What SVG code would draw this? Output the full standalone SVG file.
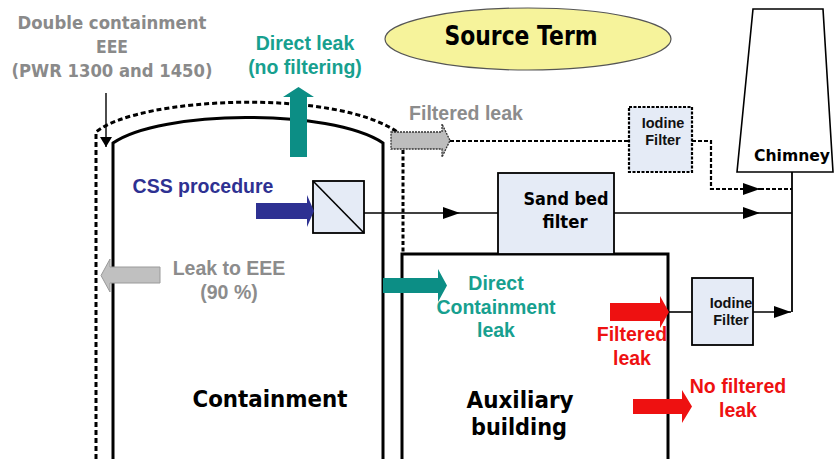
<svg xmlns="http://www.w3.org/2000/svg" width="836" height="459" viewBox="0 0 836 459">
<style>
.gl{font-family:"DejaVu Sans","Liberation Sans",sans-serif;font-weight:bold;fill:#8a8a8a;font-size:18px;text-anchor:middle}
.ar{font-family:"Liberation Sans",Arial,sans-serif;font-weight:bold;font-size:19.5px;text-anchor:middle}
.vd{font-family:"DejaVu Sans","Liberation Sans",sans-serif;font-weight:bold;fill:#000;text-anchor:middle}
.sm{font-family:"Liberation Sans",Arial,sans-serif;font-weight:bold;font-size:14.5px;fill:#111;text-anchor:middle}
.teal{fill:#17a08f}
.gray{fill:#8c8c8c}
.blue{fill:#2e3192}
.red{fill:#ee1111}
.ln{fill:none;stroke:#000;stroke-width:1.6}
.dl{fill:none;stroke:#000;stroke-width:2.2;stroke-dasharray:4 2}
.wall{fill:none;stroke:#000;stroke-width:3}
.box{fill:#e5ebf6;stroke:#000;stroke-width:1.8}
</style>
<defs>
<marker id="ah" markerWidth="17" markerHeight="12" refX="17" refY="6" orient="auto" markerUnits="userSpaceOnUse">
<path d="M0,0 L17,6 L0,12 Z" fill="#000"/>
</marker>
<marker id="ahs" markerWidth="10" markerHeight="12" refX="10" refY="6" orient="auto" markerUnits="userSpaceOnUse">
<path d="M0,0 L10,6 L0,12 Z" fill="#000"/>
</marker>
</defs>
<rect x="0" y="0" width="836" height="459" fill="#fff"/>

<g id="containment">
<path class="dl" d="M96,459 L96,132 C140,96 340,88 400,134" style="stroke-width:3;stroke-dasharray:5 3"/>
<path class="wall" d="M113,459 L113,143 C160,110 330,108 383,143 L383,459"/>
<path class="dl" d="M403,150 L403,254" style="stroke-width:3;stroke-dasharray:4 2.5"/>
<text class="vd" x="270" y="407" style="font-size:23px" textLength="155" lengthAdjust="spacingAndGlyphs">Containment</text>
</g>

<g id="double-containment-label">
<text class="gl" x="112" y="29" textLength="189" lengthAdjust="spacingAndGlyphs">Double containment</text>
<text class="gl" x="112" y="53" textLength="32" lengthAdjust="spacingAndGlyphs">EEE</text>
<text class="gl" x="112" y="77" textLength="201" lengthAdjust="spacingAndGlyphs">(PWR 1300 and 1450)</text>
</g>

<g id="source-term">
<ellipse cx="528" cy="39" rx="143" ry="31" fill="#f6f39b" stroke="#555" stroke-width="1.2"/>
<text class="vd" x="521" y="45" style="font-size:26px" textLength="153" lengthAdjust="spacingAndGlyphs">Source Term</text>
</g>

<g id="chimney">
<polygon points="753,9 823,9 833,172 737,172" fill="#fff" stroke="#000" stroke-width="1.6"/>
<text class="vd" x="792" y="161" style="font-size:16.5px" textLength="76" lengthAdjust="spacingAndGlyphs">Chimney</text>
</g>

<g id="auxiliary-building">
<rect class="wall" x="402" y="254" width="266" height="220" fill="#fff"/>
<text class="vd" x="520" y="408" style="font-size:22.5px" textLength="107" lengthAdjust="spacingAndGlyphs">Auxiliary</text>
<text class="vd" x="519" y="435" style="font-size:22.5px" textLength="96" lengthAdjust="spacingAndGlyphs">building</text>
</g>

<g id="sand-bed-filter">
<rect class="box" x="498" y="173" width="116" height="81"/>
<text class="vd" x="566" y="205" style="font-size:18px" textLength="85" lengthAdjust="spacingAndGlyphs">Sand bed</text>
<text class="vd" x="565" y="228" style="font-size:18px" textLength="45" lengthAdjust="spacingAndGlyphs">filter</text>
</g>

<g id="css-valve">
<rect class="box" x="313" y="181" width="51" height="52"/>
<line x1="313" y1="181" x2="364" y2="233" stroke="#000" stroke-width="1.6"/>
</g>

<g id="iodine-filter-top">
<rect x="629" y="107" width="63" height="65" fill="#e5ebf6" stroke="#000" stroke-width="2.2" stroke-dasharray="3 1.5"/>
<text class="sm" x="663" y="128">Iodine</text>
<text class="sm" x="663" y="145">Filter</text>
</g>

<g id="iodine-filter-bottom">
<rect class="box" x="692" y="278" width="61" height="67"/>
<text class="sm" x="731" y="308">Iodine</text>
<text class="sm" x="731" y="325">Filter</text>
</g>

<g id="connectors">
<line x1="106" y1="93" x2="106" y2="147" stroke="#000" stroke-width="1.4" marker-end="url(#ahs)"/>
<path class="ln" d="M364,213 L460,213" marker-end="url(#ah)"/>
<path class="ln" d="M460,213 L498,213"/>
<path class="ln" d="M614,213 L760,213" marker-end="url(#ah)"/>
<path class="ln" d="M760,213 L792,213"/>
<path class="dl" d="M450,141 L629,141"/>
<path class="dl" d="M692,141 L711,141 L711,189 L760,189" marker-end="url(#ah)"/>
<path class="dl" d="M760,189 L792,189"/>
<path class="ln" d="M792,172 L792,312" style="stroke-width:1.8"/>
<path class="ln" d="M669,312 L692,312"/>
<path class="ln" d="M753,312 L791,312" marker-end="url(#ah)"/>
</g>

<g id="direct-leak">
<polygon points="290,157 290,97 283,97 298.5,87 314,97 307,97 307,157" fill="#0c8e85"/>
<text class="ar teal" x="305" y="50">Direct leak</text>
<text class="ar teal" x="305" y="74">(no filtering)</text>
</g>

<g id="filtered-leak-top">
<polygon points="391,132 442,132 442,124 450,140.5 442,157 442,149 391,149" fill="#bdbdbd" stroke="#333" stroke-width="1.3" stroke-dasharray="2 1"/>
<text class="ar gray" x="466" y="120">Filtered leak</text>
</g>

<g id="css-procedure">
<polygon points="256,203 307,203 307,195 314,211 307,227 307,219 256,219" fill="#2e3192"/>
<text class="ar blue" x="203" y="193">CSS procedure</text>
</g>

<g id="leak-to-eee">
<polygon points="160,267 110,267 110,259 101,275.5 110,292 110,283 160,283" fill="#c0c0c0" stroke="#9a9a9a" stroke-width="1"/>
<text class="ar gray" x="229" y="275">Leak to EEE</text>
<text class="ar gray" x="229" y="299">(90 %)</text>
</g>

<g id="direct-containment-leak">
<polygon points="383,278 438,278 438,269 447,285.5 438,302 438,293 383,293" fill="#0c8e85"/>
<text class="ar teal" x="496" y="290">Direct</text>
<text class="ar teal" x="496" y="314">Containment</text>
<text class="ar teal" x="496" y="337">leak</text>
</g>

<g id="filtered-leak-bottom">
<polygon points="610,303 660,303 660,296 669,312 660,328 660,321 610,321" fill="#ee1111"/>
<text class="ar red" x="632" y="341">Filtered</text>
<text class="ar red" x="632" y="365">leak</text>
</g>

<g id="no-filtered-leak">
<polygon points="633,399 682,399 682,390 692,406.5 682,423 682,414 633,414" fill="#ee1111"/>
<text class="ar red" x="738" y="393">No filtered</text>
<text class="ar red" x="738" y="417">leak</text>
</g>
</svg>
